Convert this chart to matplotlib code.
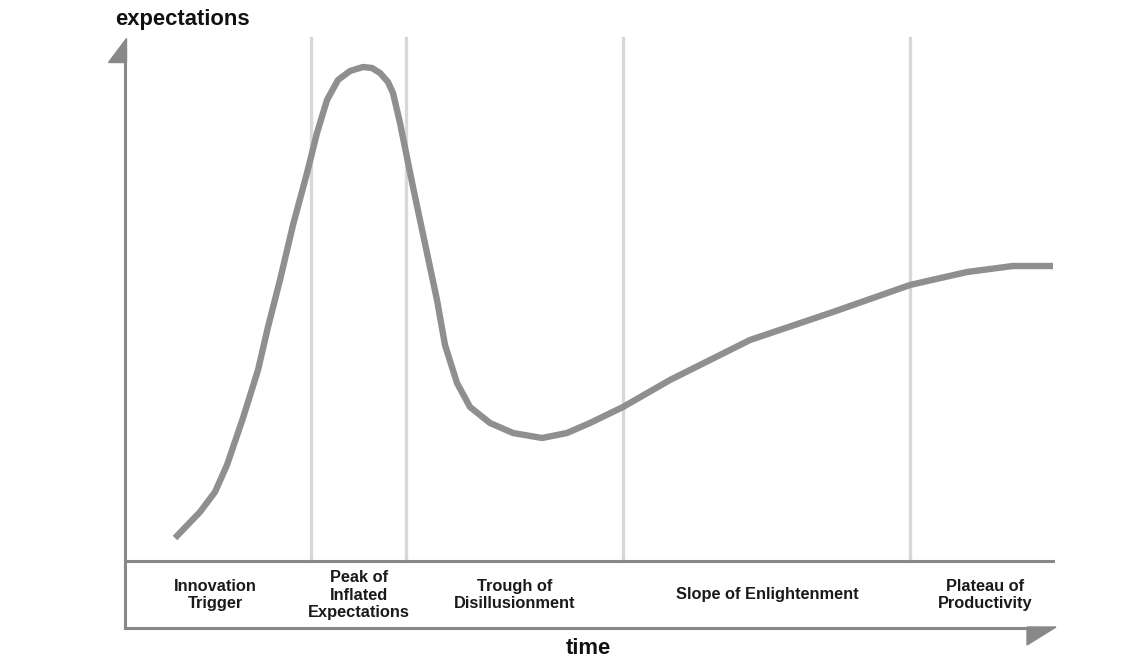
import matplotlib
matplotlib.use("Agg")
import matplotlib.pyplot as plt
from matplotlib.patches import Polygon

plt.rcParams['font.family'] = ['Liberation Sans', 'DejaVu Sans']

# hype curve (x = time, y = expectations, pixel units, y down)
curve_x = [175, 200, 215, 227, 243, 258, 268, 280, 293, 307, 317, 327, 338, 350,
           363, 372, 380, 388, 393, 400, 413, 427, 437, 445, 457, 470, 490, 513,
           542, 567, 590, 623, 670, 750, 833, 910, 967, 1013, 1053]
curve_y = [538, 512, 492, 465, 418, 370, 327, 280, 225, 173, 133, 100, 80, 71,
           67, 68, 73, 82, 93, 123, 187, 253, 300, 345, 383, 407, 423, 433,
           438, 433, 423, 407, 380, 340, 312, 285, 272, 266, 266]

# phase boundaries and labels
boundaries = [311, 406, 623, 910]
phase_labels = ["Innovation\nTrigger", "Peak of\nInflated\nExpectations",
                "Trough of\nDisillusionment", "Slope of Enlightenment",
                "Plateau of\nProductivity"]
phase_centers = [215, 359, 515, 767, 985]

fig = plt.figure(figsize=(11.45, 6.58), dpi=100)
ax = fig.add_axes([0, 0, 1, 1])
ax.set_xlim(0, 1145)
ax.set_ylim(658, 0)
ax.axis('off')

plot_top, plot_bottom, box_bottom = 38, 561, 628
x_left, x_right = 125, 1053

for b in boundaries:
    ax.plot([b, b], [plot_top, plot_bottom], color='#d8d8d8', lw=2.4, zorder=1)

ax.plot(curve_x, curve_y, color='#8f8f8f', lw=4.6, solid_capstyle='butt',
        solid_joinstyle='round', zorder=3)

axis_c = '#888888'
ax.plot([x_left, x_left], [plot_top + 10, box_bottom], color=axis_c, lw=2.2, zorder=2)
ax.plot([x_left, x_right], [plot_bottom, plot_bottom], color=axis_c, lw=2.2, zorder=2)
ax.plot([x_left, 1040], [box_bottom, box_bottom], color=axis_c, lw=2.2, zorder=2)

ax.add_patch(Polygon([[126, 38], [126, 62], [108, 62]], closed=True,
                     color=axis_c, zorder=4))
ax.add_patch(Polygon([[1027, 627], [1056, 627], [1027, 645]], closed=True,
                     color=axis_c, zorder=4))

for cx, lab in zip(phase_centers, phase_labels):
    ax.text(cx, 595, lab, ha='center', va='center', fontsize=11.8, fontweight='bold',
            linespacing=1.22, color='#1a1a1a')

ax.text(115, 20, "expectations", ha='left', va='center', fontsize=15.8,
        fontweight='bold', color='#111111')
ax.text(588, 648, "time", ha='center', va='center', fontsize=15.8,
        fontweight='bold', color='#111111')

fig.savefig("out.png", dpi=100)
